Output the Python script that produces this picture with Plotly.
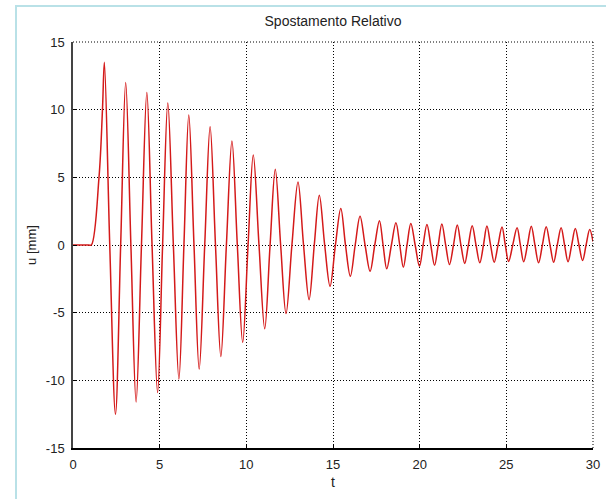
import plotly.graph_objects as go

# Time samples (s): start, rise, extrema and zero crossings
t = [0.0, 0.9, 1.06, 1.50, 1.70, 1.81, 2.12, 2.45, 2.75, 3.04, 3.34, 3.64, 3.95, 4.26, 4.56, 4.88,
     5.17, 5.47, 5.79, 6.11, 6.40, 6.68, 6.98, 7.28, 7.60, 7.91, 8.22, 8.53, 8.85, 9.17, 9.48, 9.79,
     10.10, 10.40, 10.73, 11.06, 11.37, 11.67, 11.98, 12.29, 12.63, 12.98, 13.30, 13.62, 13.92, 14.21,
     14.52, 14.83, 15.14, 15.45, 15.72, 16.00, 16.28, 16.56, 16.85, 17.14, 17.41, 17.68, 17.89, 18.10,
     18.37, 18.63, 18.85, 19.06, 19.27, 19.49, 19.74, 19.99, 20.20, 20.42, 20.64, 20.86, 21.07, 21.28,
     21.50, 21.72, 21.95, 22.17, 22.38, 22.60, 22.81, 23.03, 23.25, 23.47, 23.68, 23.88, 24.09, 24.30,
     24.52, 24.75, 24.94, 25.13, 25.37, 25.62, 25.81, 26.00, 26.22, 26.44, 26.65, 26.86, 27.08, 27.30,
     27.52, 27.73, 27.94, 28.16, 28.36, 28.56, 28.77, 28.98, 29.19, 29.40, 29.60, 29.81, 30.0]

# Relative displacement u (mm) at those times
u = [0.0, 0.0, 0.0, 5.0, 10.0, 13.5, 0.0, -12.5, 0.0, 12.0, 0.0, -11.6, 0.0, 11.27, 0.0, -10.9,
     0.0, 10.5, 0.0, -9.9, 0.0, 9.6, 0.0, -9.17, 0.0, 8.73, 0.0, -8.24, 0.0, 7.69, 0.0, -7.2,
     0.0, 6.65, 0.0, -6.19, 0.0, 5.59, 0.0, -5.07, 0.0, 4.65, 0.0, -4.04, 0.0, 3.67,
     0.0, -3.05, 0.0, 2.7, 0.0, -2.31, 0.0, 2.13, 0.0, -1.94, 0.0, 1.8, 0.0, -1.76,
     0.0, 1.64, 0.0, -1.64, 0.0, 1.59, 0.0, -1.57, 0.0, 1.52, 0.0, -1.5, 0.0, 1.55,
     0.0, -1.44, 0.0, 1.47, 0.0, -1.36, 0.0, 1.42, 0.0, -1.32, 0.0, 1.40, 0.0, -1.27,
     0.0, 1.33, 0.0, -1.22, 0.0, 1.28, 0.0, -1.24, 0.0, 1.38, 0.0, -1.32, 0.0, 1.35,
     0.0, -1.27, 0.0, 1.28, 0.0, -1.24, 0.0, 1.22, 0.0, -1.15, 0.0, 1.15, 0.25]

x_ticks = [0, 5, 10, 15, 20, 25, 30]
y_ticks = [-15, -10, -5, 0, 5, 10, 15]

FONT = "Liberation Sans"

fig = go.Figure()
fig.add_trace(go.Scatter(
    x=t, y=u, mode="lines",
    line=dict(color="#d41a1a", width=1.5, shape="spline", smoothing=1.0),
    showlegend=False, hoverinfo="skip",
))

L, R, T, B = 73, 13, 42, 51
W, H = 606, 499
pw, ph = W - L - R, H - T - B

fig.update_layout(
    width=W, height=H,
    margin=dict(l=L, r=R, t=T, b=B, pad=0),
    paper_bgcolor="white", plot_bgcolor="white",
    font=dict(family=FONT, size=13, color="#222222"),
    title=dict(text="Spostamento Relativo", x=0.5, xref="paper", xanchor="center",
               y=1 - 21 / H, yref="container", yanchor="middle",
               font=dict(family=FONT, size=14, color="#222222")),
    shapes=[
        dict(type="rect", xref="paper", yref="paper",
             x0=(16 - L) / pw, x1=1.3, y0=-0.5, y1=(H - B - 6) / ph,
             line=dict(color="#b9e1e7", width=2), fillcolor="rgba(0,0,0,0)", layer="below"),
        dict(type="line", xref="paper", yref="paper", x0=0, x1=1, y0=1, y1=1,
             line=dict(color="black", width=1, dash="1px,2px")),
        dict(type="line", xref="paper", yref="paper", x0=1, x1=1, y0=0, y1=1,
             line=dict(color="black", width=1, dash="1px,2px")),
    ],
)

fig.update_xaxes(
    range=[0, 30], tickvals=x_ticks, ticktext=[str(v) for v in x_ticks],
    showgrid=True, gridcolor="black", gridwidth=1, griddash="1px,2px",
    zeroline=False, showline=True, linecolor="black", linewidth=1.5,
    ticks="inside", ticklen=4, tickcolor="black", ticklabelstandoff=4,
    title=dict(text="t", standoff=6, font=dict(family=FONT, size=14)),
    automargin=False,
)
fig.update_yaxes(
    range=[-15, 15], tickvals=y_ticks, ticktext=[str(v) for v in y_ticks],
    showgrid=True, gridcolor="black", gridwidth=1, griddash="1px,2px",
    zeroline=False, showline=True, linecolor="#444444", linewidth=1.5,
    ticks="inside", ticklen=4, tickcolor="black", ticklabelstandoff=4,
    title=dict(text="u [mm]", standoff=6, font=dict(family=FONT, size=13)),
    automargin=False,
)

fig.write_html("out.html")
